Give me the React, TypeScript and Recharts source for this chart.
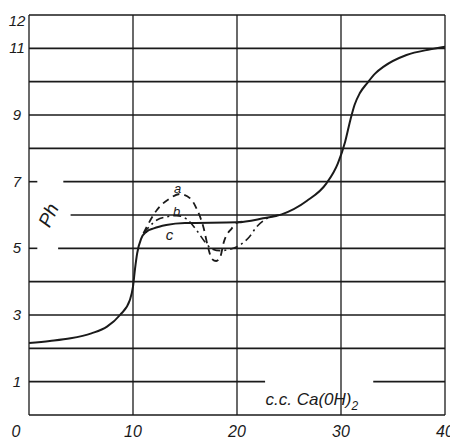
import React from "react";
import { LineChart, Line, XAxis, YAxis, ReferenceLine, ReferenceDot, Label } from "recharts";

// main titration curve (c) — x: cc Ca(OH)2, y: pH
const mainX = [0, 2, 4, 6, 7.5, 8.75, 9.7, 10, 10.2, 10.4, 10.8, 11.3, 12, 13.2, 15, 20, 22.5, 24.3, 26.7, 28.6, 29.7, 30.4, 30.9, 31.3, 31.8, 32.5, 33.3, 34.1, 36.3, 38.6, 40];
const mainY = [2.16, 2.22, 2.3, 2.45, 2.65, 3.0, 3.45, 3.85, 4.4, 4.85, 5.3, 5.5, 5.6, 5.7, 5.76, 5.78, 5.9, 6.02, 6.42, 6.95, 7.55, 8.2, 8.85, 9.3, 9.65, 9.95, 10.25, 10.45, 10.8, 10.97, 11.05];

// curve a (dashed)
const aX = [11, 12.3, 13.55, 14.5, 15.5, 16.1, 16.8, 17.2, 17.6, 18.0, 18.4, 18.7, 19.5, 20.1, 20.6];
const aY = [5.45, 6.15, 6.5, 6.63, 6.5, 6.2, 5.6, 5.05, 4.68, 4.62, 4.75, 5.15, 5.6, 5.78, 5.8];

// curve b (dash-dot)
const bX = [11, 12.3, 13.3, 14.2, 15.2, 16.1, 16.9, 17.6, 18.4, 19, 20.3, 21.2, 21.9, 22.9, 24];
const bY = [5.45, 5.85, 5.95, 5.98, 5.87, 5.55, 5.2, 4.98, 4.93, 4.95, 5.1, 5.35, 5.65, 5.9, 6.0];

const xTicks = [0, 10, 20, 30, 40];
const yTicks = [1, 3, 5, 7, 9, 11, 12];
const xVerticals = [0, 10, 20, 30, 40];
// horizontal rules: [y, from x, to x]
const hRules: [number, number, number][] = [
  [0, 0, 40], [1, 0, 22.7], [1, 33.1, 40], [2, 0, 40], [3, 0, 40], [4, 0, 40],
  [5, 0, 0.8], [5, 2.8, 40], [6, 4.0, 40], [7, 0, 0.8], [7, 3.3, 40],
  [8, 0, 40], [9, 0, 40], [10, 0, 40], [11, 0, 40], [12, 0, 40],
];

const toPts = (xs: number[], ys: number[]) => xs.map((x, i) => ({ x, y: ys[i] }));
const mainData = toPts(mainX, mainY);
const aData = toPts(aX, aY);
const bData = toPts(bX, bY);

const FONT = "'Liberation Sans', 'DejaVu Sans', sans-serif";
const INK = "#1a1a1a";

const XTick = (props: any) => {
  const { x, y, payload } = props;
  const dx = payload.value === 0 ? -13 : 0;
  return (
    <text x={x + dx} y={y} dy={14} textAnchor="middle" fontFamily={FONT} fontStyle="italic" fontSize={16} fill={INK}>
      {payload.value}
    </text>
  );
};

const YTick = (props: any) => {
  const { y, payload } = props;
  const dy = payload.value === 12 ? 9 : 5;
  return (
    <text x={9} y={y} dy={dy} textAnchor="middle" fontFamily={FONT} fontStyle="italic" fontSize={15} fill={INK}>
      {payload.value}
    </text>
  );
};

const AxisLabel = (props: any) => {
  const { viewBox } = props;
  const cx = viewBox.x + viewBox.width / 2;
  const cy = viewBox.y + viewBox.height / 2;
  return (
    <text x={cx} y={cy} dy={6} textAnchor="middle" fontFamily={FONT} fontStyle="italic" fontSize={17} fill={INK}>
      c.c. Ca(0H)<tspan fontSize={12} dy={5}>2</tspan>
    </text>
  );
};

export default function App() {
  return (
    <LineChart width={450} height={436} margin={{ top: 7, right: 13, bottom: 4, left: 0 }}>
      <XAxis type="number" dataKey="x" domain={[0, 40]} ticks={xTicks} axisLine={false} tickLine={false} tick={<XTick />} height={25} allowDataOverflow />
      <YAxis type="number" dataKey="y" domain={[0, 12]} ticks={yTicks} axisLine={false} tickLine={false} tick={<YTick />} width={21} allowDataOverflow />
      {hRules.map(([y, x1, x2], i) => (
        <ReferenceLine key={"h" + i} segment={[{ x: x1, y }, { x: x2, y }]} stroke={INK} strokeWidth={1.6} ifOverflow="visible" />
      ))}
      {xVerticals.map((x) => (
        <ReferenceLine key={"v" + x} x={x} stroke={INK} strokeWidth={1.3} ifOverflow="visible" />
      ))}
      <Line data={mainData} dataKey="y" type="monotone" stroke={INK} strokeWidth={2} dot={false} isAnimationActive={false} />
      <Line data={aData} dataKey="y" type="monotone" stroke={INK} strokeWidth={1.8} strokeDasharray="7 5" dot={false} isAnimationActive={false} />
      <Line data={bData} dataKey="y" type="monotone" stroke={INK} strokeWidth={1.6} strokeDasharray="8 4 2 4" dot={false} isAnimationActive={false} />
      <ReferenceDot x={14.3} y={6.81} r={0} fill="none" stroke="none" ifOverflow="visible">
        <Label value="a" position="center" fontFamily={FONT} fontStyle="italic" fontSize={13} fill={INK} />
      </ReferenceDot>
      <ReferenceDot x={14.2} y={6.1} r={0} fill="none" stroke="none" ifOverflow="visible">
        <Label value="b" position="center" fontFamily={FONT} fontStyle="italic" fontSize={13} fill={INK} />
      </ReferenceDot>
      <ReferenceDot x={13.5} y={5.4} r={0} fill="none" stroke="none" ifOverflow="visible">
        <Label value="c" position="center" fontFamily={FONT} fontStyle="italic" fontSize={15} fill={INK} />
      </ReferenceDot>
      <ReferenceDot x={1.85} y={6.0} r={0} fill="none" stroke="none" ifOverflow="visible">
        <Label value="Ph" position="center" angle={-65} fontFamily={FONT} fontStyle="italic" fontSize={19} fill={INK} />
      </ReferenceDot>
      <ReferenceDot x={27.2} y={0.48} r={0} fill="none" stroke="none" ifOverflow="visible">
        <Label content={<AxisLabel />} />
      </ReferenceDot>
    </LineChart>
  );
}
